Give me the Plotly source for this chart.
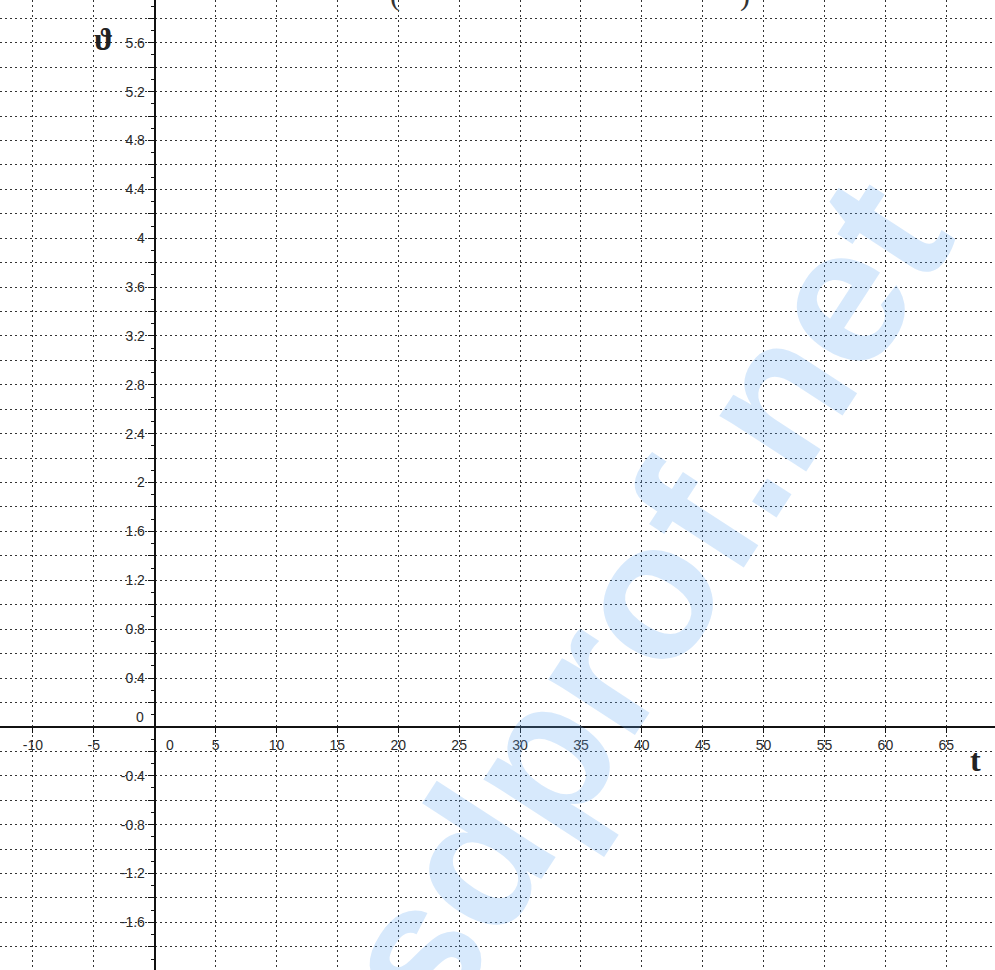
import plotly.graph_objects as go

# ---- data: axis ranges and tick labels ----
x_range = [-12.7, 69.0]
y_range = [-1.99, 5.95]

x_tick_vals = [-10, -5, 0, 5, 10, 15, 20, 25, 30, 35, 40, 45, 50, 55, 60, 65]
x_tick_text = ["-10", "-5", "", "5", "10", "15", "20", "25", "30", "35", "40", "45", "50", "55", "60", "65"]

y_tick_vals = [-1.8, -1.6, -1.4, -1.2, -1.0, -0.8, -0.6, -0.4, -0.2, 0.0,
               0.2, 0.4, 0.6, 0.8, 1.0, 1.2, 1.4, 1.6, 1.8, 2.0,
               2.2, 2.4, 2.6, 2.8, 3.0, 3.2, 3.4, 3.6, 3.8, 4.0,
               4.2, 4.4, 4.6, 4.8, 5.0, 5.2, 5.4, 5.6, 5.8]
y_tick_text = ["", "-1.6", "", "-1.2", "", "-0.8", "", "-0.4", "", "",
               "", "0.4", "", "0.8", "", "1.2", "", "1.6", "", "2",
               "", "2.4", "", "2.8", "", "3.2", "", "3.6", "", "4",
               "", "4.4", "", "4.8", "", "5.2", "", "5.6", ""]

zero_label = "0"
x_title = "t"
y_title = "ϑ"
watermark = "sdprof.net"

W, H = 995, 970

# paper position of the axes crossing (x=0, y=0)
x_axis_pos = (0 - y_range[0]) / (y_range[1] - y_range[0])
y_axis_pos = (0 - x_range[0]) / (x_range[1] - x_range[0])

fig = go.Figure()
# invisible trace so the axes are active
fig.add_trace(go.Scatter(x=[x_range[0], x_range[1]], y=[y_range[0], y_range[1]],
                         mode="markers", marker=dict(opacity=0), hoverinfo="skip",
                         showlegend=False))

tick_font = dict(family="Liberation Sans, Arial, sans-serif", size=14, color="#2a2a2a")
grid_col = "#333333"

fig.update_layout(
    width=W, height=H,
    margin=dict(l=0, r=0, t=0, b=0),
    paper_bgcolor="white", plot_bgcolor="white",
    showlegend=False,
    xaxis=dict(
        range=x_range, anchor="free", position=x_axis_pos, side="bottom",
        tickmode="array", tickvals=x_tick_vals, ticktext=x_tick_text,
        showgrid=True, gridcolor=grid_col, gridwidth=1, griddash="2px,3px",
        zeroline=False, showline=True, linecolor="#111", linewidth=2,
        ticks="outside", ticklen=5, tickcolor="#111", tickwidth=1,
        tickfont=tick_font, fixedrange=True,
    ),
    yaxis=dict(
        range=y_range, anchor="free", position=y_axis_pos, side="left",
        tickmode="array", tickvals=y_tick_vals, ticktext=y_tick_text,
        showgrid=True, gridcolor=grid_col, gridwidth=1, griddash="2px,3px",
        zeroline=False, showline=True, linecolor="#111", linewidth=2,
        ticks="outside", ticklen=6, tickcolor="#111", tickwidth=1,
        minor=dict(dtick=0.1, tick0=0, ticks="outside", ticklen=3,
                   tickcolor="#111", showgrid=False),
        tickfont=tick_font, fixedrange=True,
    ),
)

serif = "Liberation Serif, DejaVu Serif, serif"
annotations = [
    # zero labels offset from the axes
    dict(x=0, y=0, xref="x", yref="y", text=zero_label, showarrow=False,
         font=tick_font, xanchor="left", yanchor="top", xshift=9, yshift=-8),
    dict(x=0, y=0, xref="x", yref="y", text=zero_label, showarrow=False,
         font=tick_font, xanchor="right", yanchor="middle", xshift=-9, yshift=10),
    # axis titles
    dict(x=0, y=5.6, xref="x", yref="y", text=y_title, showarrow=False,
         font=dict(family=serif, size=32, color="#222", weight="bold"),
         xanchor="center", yanchor="middle", xshift=-51, yshift=4),
    dict(x=1, y=0, xref="paper", yref="y", text=x_title, showarrow=False,
         font=dict(family=serif, size=32, color="#222", weight="bold"),
         xanchor="center", yanchor="middle", xshift=-20, yshift=-33),
    # clipped title remnants at the top edge
    dict(x=395 / W, y=1, xref="paper", yref="paper", text="(", showarrow=False,
         font=dict(family=serif, size=30, color="#333"),
         xanchor="center", yanchor="bottom", yshift=-14),
    dict(x=745 / W, y=1, xref="paper", yref="paper", text=")", showarrow=False,
         font=dict(family=serif, size=30, color="#333"),
         xanchor="center", yanchor="bottom", yshift=-14),
    # watermark
    dict(x=641 / W, y=1 - 601 / H, xref="paper", yref="paper", text=watermark,
         showarrow=False, textangle=-57,
         font=dict(family="Liberation Sans, Arial, sans-serif", size=195,
                   color="rgba(100,170,245,0.26)", weight="bold"),
         xanchor="center", yanchor="middle"),
]
fig.update_layout(annotations=annotations)

fig.write_html("out.html", config={"displayModeBar": False},
               post_script="document.body.style.margin='0';")
